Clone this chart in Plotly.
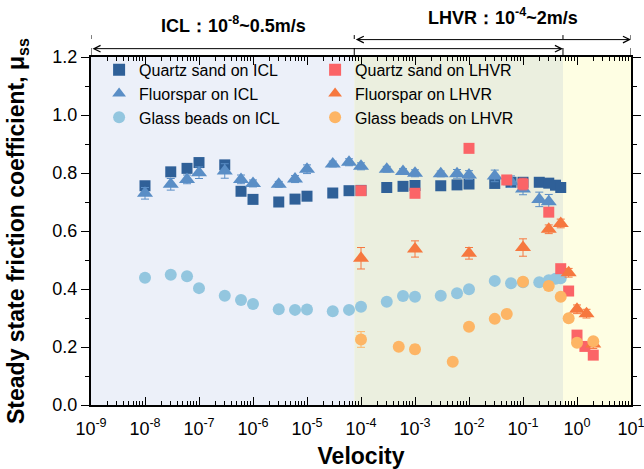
import math
import plotly.graph_objects as go

# ---------------- data ----------------
v_icl = [1e-8, 3e-8, 6e-8, 1e-7, 3e-7, 6e-7, 1e-6, 3e-6, 6e-6, 1e-5, 3e-5, 6e-5, 1e-4,
         3e-4, 6e-4, 1e-3, 3e-3, 6e-3, 1e-2, 3e-2, 6e-2, 1e-1, 2e-1, 3e-1, 4e-1, 5e-1]
quartz_icl = [0.756, 0.804, 0.816, 0.836, 0.828, 0.737, 0.709, 0.700, 0.710, 0.720, 0.731, 0.739, 0.740,
              0.750, 0.754, 0.757, 0.756, 0.759, 0.762, 0.764, 0.768, 0.768, 0.768, 0.765, 0.758, 0.750]
quartz_icl_err = [0.01, 0.01, 0.01, 0.008, 0.012, 0.01, 0.008, 0.006, 0.006, 0.006, 0.006, 0.006, 0.01,
                  0.006, 0.006, 0.01, 0.008, 0.01, 0.008, 0.012, 0.015, 0.012, 0.01, 0.01, 0.01, 0.01]

v_icl_f = [1e-8, 3e-8, 6e-8, 1e-7, 3e-7, 6e-7, 1e-6, 3e-6, 6e-6, 1e-5, 3e-5, 6e-5, 1e-4,
           3e-4, 6e-4, 1e-3, 3e-3, 6e-3, 1e-2, 3e-2, 6e-2, 1e-1, 2e-1, 3e-1]
fluor_icl = [0.730, 0.761, 0.778, 0.801, 0.807, 0.778, 0.764, 0.761, 0.779, 0.813, 0.831, 0.837, 0.823,
             0.813, 0.805, 0.799, 0.797, 0.797, 0.793, 0.790, 0.770, 0.745, 0.709, 0.701]
fluor_icl_err = [0.02, 0.02, 0.015, 0.02, 0.025, 0.015, 0.012, 0.01, 0.012, 0.015, 0.01, 0.012, 0.012,
                 0.01, 0.01, 0.012, 0.01, 0.015, 0.015, 0.02, 0.02, 0.02, 0.025, 0.025]

glass_icl = [0.439, 0.449, 0.444, 0.403, 0.377, 0.362, 0.348, 0.330, 0.328, 0.329, 0.323, 0.328, 0.339,
             0.356, 0.376, 0.373, 0.377, 0.385, 0.399, 0.428, 0.420, 0.423, 0.423, 0.430, 0.435, 0.437]
glass_icl_err = [0.005] * 26

v_q_lhvr = [1e-4, 1e-3, 1e-2, 5e-2, 1e-1, 3e-1, 5e-1, 7e-1, 1.0, 1.4, 2.0]
quartz_lhvr = [0.739, 0.730, 0.885, 0.776, 0.762, 0.665, 0.470, 0.393, 0.241, 0.202, 0.172]
quartz_lhvr_err = [0.01, 0.005, 0.005, 0.005, 0.02, 0.015, 0.01, 0.005, 0.01, 0.005, 0.005]

v_f_lhvr = [1e-4, 1e-3, 1e-2, 1e-1, 3e-1, 5e-1, 7e-1, 1.0, 1.5, 2.0]
fluor_lhvr = [0.506, 0.538, 0.523, 0.543, 0.606, 0.626, 0.456, 0.330, 0.315, 0.210]
fluor_lhvr_err = [0.037, 0.028, 0.02, 0.03, 0.015, 0.015, 0.015, 0.015, 0.015, 0.015]

v_g_lhvr = [1e-4, 5e-4, 1e-3, 5e-3, 1e-2, 3e-2, 5e-2, 1e-1, 3e-1, 5e-1, 7e-1, 1.0, 2.0]
glass_lhvr = [0.226, 0.201, 0.192, 0.149, 0.270, 0.297, 0.314, 0.425, 0.410, 0.373, 0.299, 0.215, 0.220]
glass_lhvr_err = [0.027, 0.005, 0.015, 0.005, 0.005, 0.005, 0.005, 0.012, 0.015, 0.005, 0.005, 0.005, 0.005]

# regime boundaries (m/s)
x_min, b_icl, b_lhvr, x_max = 1e-9, 7.5e-5, 0.55, 10.0
region_colors = ["#ecf0f9", "#ebefdf", "#fefee3"]

x_tick_exp = list(range(-9, 2))
y_tick_vals = [0.0, 0.2, 0.4, 0.6, 0.8, 1.0, 1.2]

header_icl = "<b>ICL：10<sup>-8</sup>~0.5m/s</b>"
header_lhvr = "<b>LHVR：10<sup>-4</sup>~2m/s</b>"

# ---------------- figure ----------------
C_Q1, C_F1, C_G1 = "#2f6098", "#5a8ec6", "#93c6df"
C_Q2, C_F2, C_G2 = "#fb6467", "#f6783f", "#fdb565"

series = [
    ("Quartz sand on ICL", v_icl, quartz_icl, quartz_icl_err, "square", C_Q1, 11, "legend"),
    ("Fluorspar on ICL", v_icl_f, fluor_icl, fluor_icl_err, "triangle-up", C_F1, 14, "legend"),
    ("Glass beads on ICL", v_icl, glass_icl, glass_icl_err, "circle", C_G1, 12, "legend"),
    ("Quartz sand on LHVR", v_q_lhvr, quartz_lhvr, quartz_lhvr_err, "square", C_Q2, 11, "legend2"),
    ("Fluorspar on LHVR", v_f_lhvr, fluor_lhvr, fluor_lhvr_err, "triangle-up", C_F2, 14, "legend2"),
    ("Glass beads on LHVR", v_g_lhvr, glass_lhvr, glass_lhvr_err, "circle", C_G2, 12, "legend2"),
]

fig = go.Figure()
for name, xs, ys, es, sym, col, sz, lg in series:
    fig.add_trace(go.Scatter(
        x=xs, y=ys, mode="markers", name=name, legend=lg,
        marker=dict(symbol=sym, color=col, size=sz, line=dict(width=0)),
        error_y=dict(type="data", array=es, visible=True, color=col, thickness=1, width=4),
    ))

# background regions
bounds = [x_min, b_icl, b_lhvr, x_max]
for i, c in enumerate(region_colors):
    fig.add_shape(type="rect", xref="x", yref="paper", x0=bounds[i], x1=bounds[i + 1],
                  y0=0, y1=1, fillcolor=c, line=dict(width=0), layer="below")

# dashed vertical markers above the plot
for b in bounds:
    fig.add_shape(type="line", xref="x", yref="paper", x0=b, x1=b, y0=1.0, y1=1.063,
                  line=dict(color="black", width=1, dash="dash"))

# double-headed arrows
arrow_defs = [(x_min, b_lhvr, 1.024), (b_icl, x_max, 1.050)]
for a, b, yy in arrow_defs:
    fig.add_annotation(x=math.log10(b), ax=math.log10(a), xref="x", axref="x",
                       y=yy, ay=0, yref="paper", ayref="pixel", text="", showarrow=True,
                       arrowhead=5, startarrowhead=5, arrowside="end+start",
                       arrowsize=1.3, startarrowsize=1.3, arrowwidth=1, arrowcolor="black")

fig.add_annotation(x=-6.37, y=1.092, xref="x", yref="paper", text=header_icl, showarrow=False,
                   font=dict(size=18, color="black", family="Arial"), xanchor="center", yanchor="middle")
fig.add_annotation(x=-1.37, y=1.116, xref="x", yref="paper", text=header_lhvr, showarrow=False,
                   font=dict(size=18, color="black", family="Arial"), xanchor="center", yanchor="middle")

minor_vals = [m * 10.0 ** k for k in range(-9, 1) for m in range(2, 10)]

legend_common = dict(orientation="v", yanchor="top", xanchor="left", bgcolor="rgba(0,0,0,0)",
                     font=dict(size=16, family="Arial"), itemsizing="constant", tracegroupgap=0)

fig.update_layout(
    width=644, height=469,
    margin=dict(l=91, r=13, t=57, b=64, autoexpand=False),
    paper_bgcolor="white", plot_bgcolor="white",
    font=dict(family="Arial", color="black", size=17),
    showlegend=True,
    legend=dict(x=0.015, y=1.012, **legend_common),
    legend2=dict(x=0.415, y=1.012, **legend_common),
    xaxis=dict(
        type="log", range=[-9, 1], automargin=False,
        tickmode="array", tickvals=[10.0 ** e for e in x_tick_exp],
        ticktext=["10<sup>%d</sup>" % e for e in x_tick_exp],
        ticks="inside", ticklen=8, tickwidth=1.2, tickcolor="black",
        minor=dict(tickmode="array", tickvals=minor_vals, ticks="inside", ticklen=4,
                   tickwidth=1, tickcolor="black"),
        showline=True, linecolor="black", linewidth=2, mirror="allticks",
        showgrid=False, zeroline=False, ticklabelstandoff=6, ticklabeloverflow="allow",
        tickfont=dict(size=18, family="Arial"),
        title=dict(text="<b>Velocity</b>", font=dict(size=23, family="Arial"), standoff=10),
    ),
    yaxis=dict(
        range=[0, 1.2], automargin=False, tickmode="array", tickvals=y_tick_vals,
        ticktext=["%.1f" % v for v in y_tick_vals],
        ticks="outside", ticklen=8, tickwidth=1.2, tickcolor="black",
        minor=dict(dtick=0.1, ticks="outside", ticklen=4, tickwidth=1, tickcolor="black"),
        showline=True, linecolor="black", linewidth=2, mirror="allticks",
        showgrid=False, zeroline=False,
        tickfont=dict(size=18, family="Arial"),
        title=dict(text="<b>Steady state friction coefficient, μ<sub>ss</sub></b>",
                   font=dict(size=23, family="Arial"), standoff=21),
    ),
)

fig.write_html("out.html")
